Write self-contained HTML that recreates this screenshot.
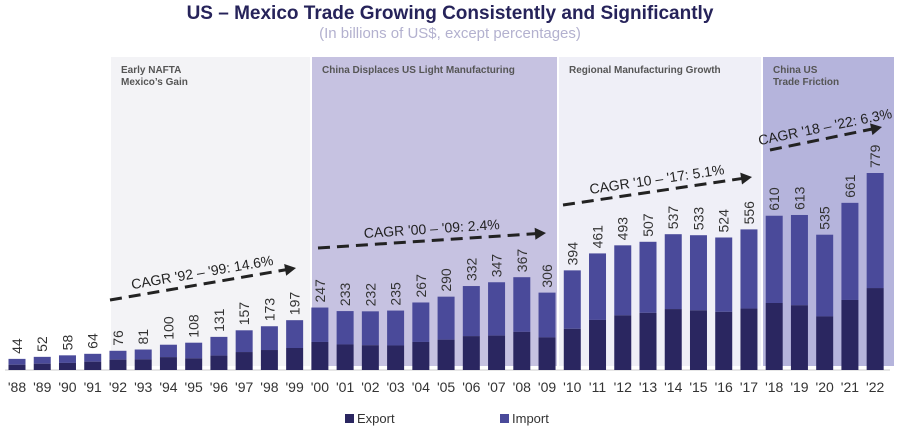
<!DOCTYPE html>
<html><head><meta charset="utf-8"><style>
body{margin:0;background:#fff;width:902px;height:434px;overflow:hidden;font-family:"Liberation Sans",sans-serif}
</style></head><body>
<svg id="c" width="902" height="434" xmlns="http://www.w3.org/2000/svg">
<text x="450" y="19" text-anchor="middle" font-size="19" font-weight="bold" fill="#26235a">US – Mexico Trade Growing Consistently and Significantly</text>
<text x="450" y="38" text-anchor="middle" font-size="15" fill="#b3b1cf">(In billions of US$, except percentages)</text>
<rect x="111" y="57" width="199" height="309" fill="#f3f3f6"/>
<rect x="312" y="57" width="245" height="309" fill="#c6c2e1"/>
<rect x="559" y="57" width="202" height="309" fill="#efeff7"/>
<rect x="763" y="57" width="131" height="309" fill="#b5b4dc"/>
<g font-size="10" font-weight="bold" fill="#555">
<text x="121" y="73">Early NAFTA<tspan x="121" dy="12">Mexico’s Gain</tspan></text>
<text x="322" y="73">China Displaces US Light Manufacturing</text>
<text x="569" y="73">Regional Manufacturing Growth</text>
<text x="773" y="73">China US<tspan x="773" dy="12">Trade  Friction</tspan></text>
</g>
<line x1="5" y1="370" x2="890" y2="370" stroke="#ddd" stroke-width="1.5"/>
<g id="bars"></g>
<g id="cagr"></g>
<rect x="345" y="414" width="9" height="9" fill="#2a2660"/>
<text x="357" y="423" font-size="13" fill="#333">Export</text>
<rect x="500" y="414" width="9" height="9" fill="#4a4a9a"/>
<text x="512" y="423" font-size="13" fill="#333">Import</text>
</svg>
<script>
const years=["'88","'89","'90","'91","'92","'93","'94","'95","'96","'97","'98","'99","'00","'01","'02","'03","'04","'05","'06","'07","'08","'09","'10","'11","'12","'13","'14","'15","'16","'17","'18","'19","'20","'21","'22"];
const totals=[44,52,58,64,76,81,100,108,131,157,173,197,247,233,232,235,267,290,332,347,367,306,394,461,493,507,537,533,524,556,610,613,535,661,779];
const exportsV=[21,25,28,33,41,42,51,46,57,71,79,87,111,101,98,97,111,120,134,136,151,129,163,198,216,226,241,236,230,243,265,256,212,277,324];
const cagrLabels=["CAGR '92 – '99: 14.6%","CAGR '00 – '09: 2.4%","CAGR '10 – '17: 5.1%","CAGR '18 – '22: 6.3%"];
const NS="http://www.w3.org/2000/svg";
const base=370,k=197/779;
const xc=i=>17+i*25.24;
const y=v=>base-v*k;
const bars=document.getElementById('bars');
function mk(t,a,p){const e=document.createElementNS(NS,t);for(const n in a)e.setAttribute(n,a[n]);p.appendChild(e);return e;}
years.forEach((yr,i)=>{
  const imp=mk('rect',{x:xc(i)-8.5,y:y(totals[i]),width:17,height:(totals[i]-exportsV[i])*k,fill:'#4a4a9a'},bars);
  
  
  const ex=mk('rect',{x:xc(i)-8.5,y:y(exportsV[i]),width:17,height:exportsV[i]*k,fill:'#2a2660'},bars);
  
  
  const lx=xc(i)+5,ly=y(totals[i])-5;
  const t=mk('text',{x:lx,y:ly,transform:`rotate(-90 ${lx} ${ly})`,'font-size':14,fill:'#333'},bars);
  t.textContent=totals[i];
  
  
  const yl=mk('text',{x:xc(i),y:392,'text-anchor':'middle','font-size':14,fill:'#333'},bars);
  yl.textContent=yr;
  
  
});
const cg=document.getElementById('cagr');
const arrows=[[110,300,296,268],[318,248,546,233],[563,205,752,177],[770,150,882,127]];
arrows.forEach((a,i)=>{
  const [x1,y1,x2,y2]=a;
  const ang=Math.atan2(y2-y1,x2-x1);
  const l=mk('line',{x1,y1,x2:x2-8*Math.cos(ang),y2:y2-8*Math.sin(ang),stroke:'#222','stroke-width':3,'stroke-dasharray':'12 7'},cg);
  
  
  const deg=ang*180/Math.PI;
  const h=mk('polygon',{points:`${x2},${y2} ${x2-11},${y2-6} ${x2-11},${y2+6}`,fill:'#222',transform:`rotate(${deg} ${x2} ${y2})`},cg);
  
  
  const mx=(x1+x2)/2,my=(y1+y2)/2-7;
  const t=mk('text',{x:mx,y:my,'text-anchor':'middle','font-size':14,fill:'#222',transform:`rotate(${deg} ${mx} ${my})`},cg);
  t.textContent=cagrLabels[i];
  
  
});
</script>
</body></html>
